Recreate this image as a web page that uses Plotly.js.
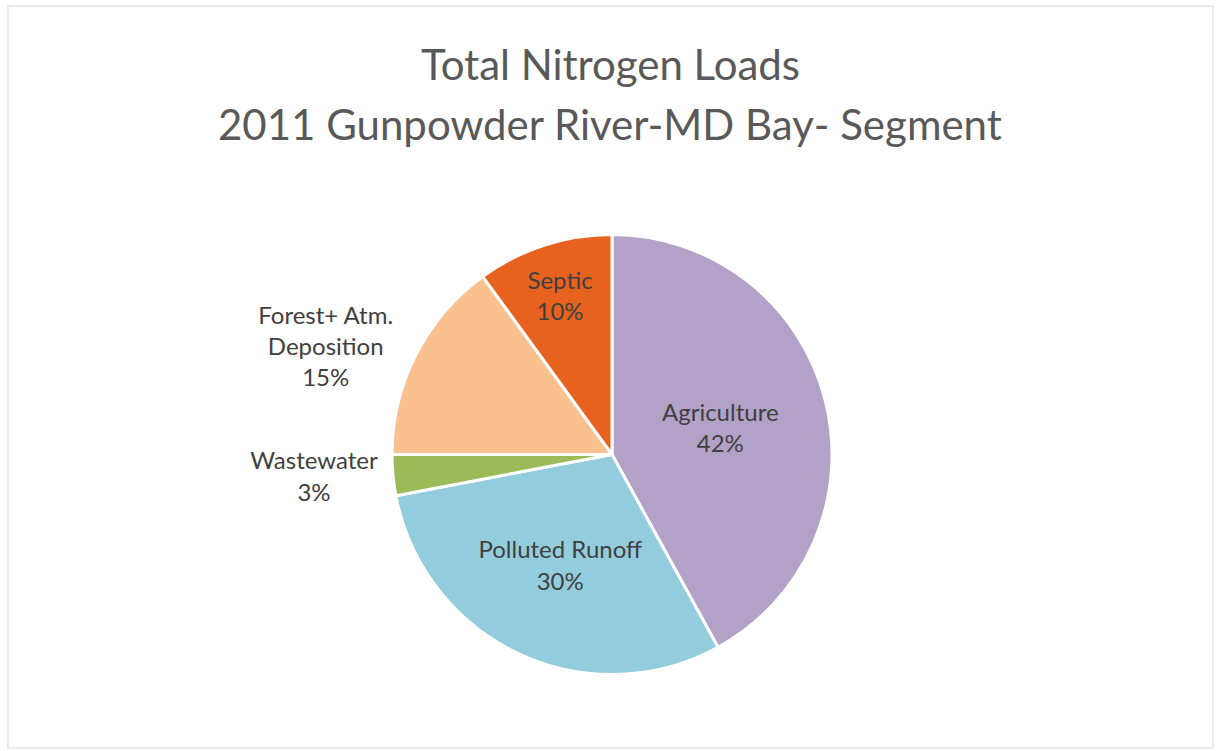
<!DOCTYPE html>
<html>
<head>
<meta charset="utf-8">
<script src="https://cdn.plot.ly/plotly-3.0.1.min.js"></script>
<style>html,body{margin:0;padding:0;background:#fff;}#chart{width:1216px;height:751px;}</style>
</head>
<body>
<div id="chart"></div>
<script>
const categories = ["Agriculture", "Polluted Runoff", "Wastewater", "Forest+ Atm.<br>Deposition", "Septic"];
const values = [42, 30, 3, 15, 10];
const colors = ["#B3A2C7", "#93CDDD", "#9BBB59", "#FAC090", "#E6621E"];
const textPositions = ["inside", "inside", "outside", "outside", "inside"];
const titleLines = ["Total Nitrogen Loads", "2011 Gunpowder River-MD Bay- Segment"];

const FONT = "Lato, 'Open Sans', sans-serif";

const trace = {
  type: "pie",
  labels: categories,
  values: values,
  sort: false,
  direction: "clockwise",
  rotation: 0,
  marker: {colors: colors, line: {color: "#ffffff", width: 3}},
  textposition: textPositions,
  texttemplate: "%{label}<br>%{percent:.0%}",
  textinfo: "label+percent",
  insidetextorientation: "horizontal",
  insidetextfont: {family: FONT, size: 24, color: "#404040"},
  outsidetextfont: {family: FONT, size: 24, color: "#404040"},
  hoverinfo: "label+percent",
  showlegend: false,
  domain: {x: [(612 - 220) / 1216, (612 + 220) / 1216], y: [1 - 676 / 751, 1 - 233 / 751]},
  automargin: false
};

const layout = {
  width: 1216,
  height: 751,
  margin: {l: 0, r: 0, t: 0, b: 0},
  paper_bgcolor: "#ffffff",
  showlegend: false,
  annotations: [
    {text: titleLines[0], xref: "paper", yref: "paper", x: 0.502, y: 1 - 64 / 751, xanchor: "center", yanchor: "middle", showarrow: false, font: {family: FONT, size: 42, color: "#595959"}},
    {text: titleLines[1], xref: "paper", yref: "paper", x: 0.502, y: 1 - 124 / 751, xanchor: "center", yanchor: "middle", showarrow: false, font: {family: FONT, size: 42, color: "#595959"}}
  ],
  shapes: [
    {type: "rect", xref: "paper", yref: "paper", x0: 8 / 1216, x1: 1213 / 1216, y0: 1 - 748 / 751, y1: 1 - 6 / 751, line: {color: "#E3E3E3", width: 1.5}, fillcolor: "rgba(0,0,0,0)"}
  ]
};

Plotly.newPlot("chart", [trace], layout, {displayModeBar: false, staticPlot: true});
</script>
</body>
</html>
